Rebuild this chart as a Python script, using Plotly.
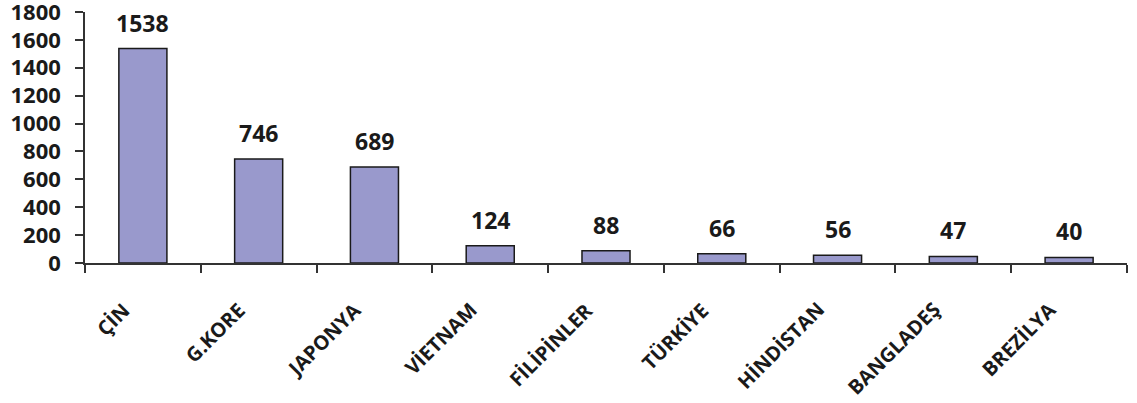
import plotly.graph_objects as go

categories = ["ÇİN", "G.KORE", "JAPONYA", "VİETNAM", "FİLİPİNLER", "TÜRKİYE", "HİNDİSTAN", "BANGLADEŞ", "BREZİLYA"]
values = [1538, 746, 689, 124, 88, 66, 56, 47, 40]
y_ticks = [0, 200, 400, 600, 800, 1000, 1200, 1400, 1600, 1800]

FONT = "Open Sans"
TXT = "#1a1a1a"

fig = go.Figure()
fig.add_trace(go.Bar(
    x=categories, y=values,
    marker=dict(color="#9999CC", line=dict(color="#1a1a1a", width=1.5)),
    showlegend=False, hoverinfo="skip",
))

# value labels above bars
for c, v in zip(categories, values):
    fig.add_annotation(
        x=c, y=v, text=f"<b>{v}</b>", showarrow=False,
        yanchor="bottom", yshift=8,
        font=dict(family=FONT, size=23, color=TXT),
    )

# rotated category labels
for c in categories:
    fig.add_annotation(
        x=c, y=0, text=f"<b>{c}</b>", showarrow=False,
        textangle=-45, xanchor="right", yanchor="top",
        xshift=-5, yshift=-31,
        font=dict(family=FONT, size=20, color=TXT),
    )

fig.update_layout(
    width=1137, height=403,
    margin=dict(l=85, r=10, t=12, b=140, autoexpand=False),
    plot_bgcolor="white", paper_bgcolor="white",
    bargap=0.585,
    font=dict(family=FONT, size=22, color=TXT),
)
fig.update_xaxes(
    type="category", automargin=False,
    showline=True, linecolor="#333", linewidth=1.5,
    ticks="outside", ticklen=8, tickwidth=1.5, tickcolor="#333",
    tickson="boundaries",
    showticklabels=False,
    showgrid=False,
)
fig.update_yaxes(
    range=[0, 1800], automargin=False,
    tickvals=y_ticks,
    ticktext=[f"<b>{t}</b>" for t in y_ticks],
    ticklabeloverflow="allow",
    ticklabelstandoff=10,
    showline=True, linecolor="#333", linewidth=1.5,
    ticks="outside", ticklen=8, tickwidth=1.5, tickcolor="#333",
    tickfont=dict(family=FONT, size=22, color=TXT),
    showgrid=False, zeroline=False,
)

fig.write_html("out.html", config={"displayModeBar": False},
               post_script="document.body.style.margin='0';")
